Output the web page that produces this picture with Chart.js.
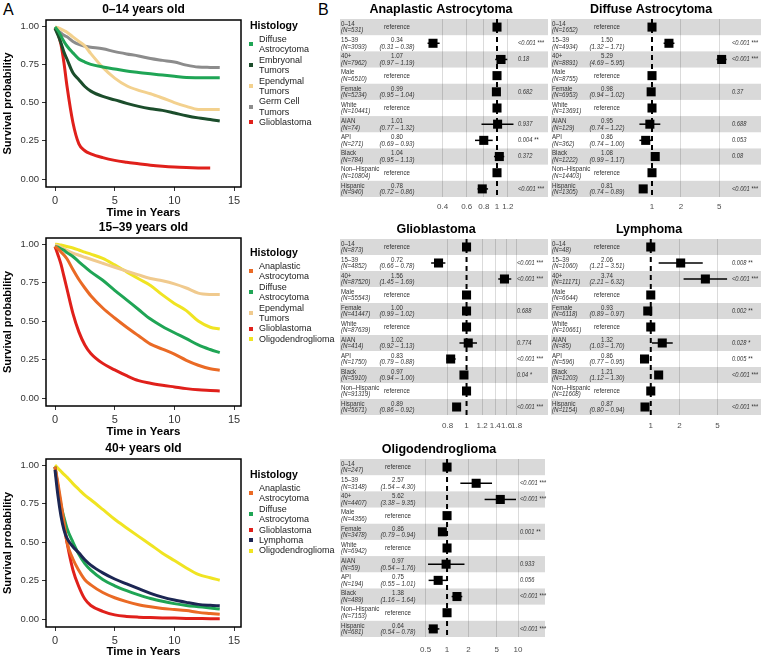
<!DOCTYPE html>
<html>
<head>
<meta charset="utf-8">
<script src="https://cdn.jsdelivr.net/npm/chart.js"></script>
<style>
  html, body { margin: 0; padding: 0; background: #fff; }
  #fig { position: relative; width: 761px; height: 661px; overflow: hidden; font-family: 'Liberation Sans', Arial, sans-serif; }
  canvas { position: absolute; }
  .tag { position: absolute; font-size: 16px; line-height: 18px; color: #000; }
  .legend { position: absolute; left: 246px; color: #1a1a1a; }
  .legend .lt { font-weight: bold; font-size: 10.5px; line-height: 14px; margin-left: 4px; margin-bottom: 2px; color: #000; }
  .legend .li { display: flex; align-items: center; }
  .legend .sw { width: 4px; height: 4px; margin: 0 6px 0 3px; flex: none; }
  .legend .tx { font-size: 9px; line-height: 10.4px; white-space: nowrap; }
</style>
</head>
<body>
<div id="fig">
  <div class="tag" style="left:3px;top:1px">A</div>
  <div class="tag" style="left:318px;top:1px">B</div>

  <canvas id="km1" width="250" height="222" style="left:0;top:0"></canvas>
  <canvas id="km2" width="250" height="223" style="left:0;top:218px"></canvas>
  <canvas id="km3" width="250" height="222" style="left:0;top:439px"></canvas>

  <div class="legend" id="leg1" style="top:18px"></div>
  <div class="legend" id="leg2" style="top:245px"></div>
  <div class="legend" id="leg3" style="top:467px"></div>

  <canvas id="fAna" width="214" height="215" style="left:336px;top:0"></canvas>
  <canvas id="fDif" width="211" height="215" style="left:550px;top:0"></canvas>
  <canvas id="fGli" width="214" height="215" style="left:336px;top:220px"></canvas>
  <canvas id="fLym" width="211" height="215" style="left:550px;top:220px"></canvas>
  <canvas id="fOli" width="214" height="221" style="left:336px;top:440px"></canvas>
</div>

<script>
// ========== DATA: survival curves (panel A) ==========
const kmTime = [0, 0.25, 0.5, 0.75, 1, 1.5, 2, 2.5, 3, 4, 5, 6, 7, 8, 9, 10, 11, 12, 13, 13.8];
const kmXTicks = [0, 5, 10, 15];
const kmYTicks = [0, 0.25, 0.5, 0.75, 1];

// 0-14 years old
const k1Names = ['Diffuse\nAstrocytoma', 'Embryonal\nTumors', 'Ependymal\nTumors', 'Germ Cell\nTumors', 'Glioblastoma'];
const k1Colors = ['#1fa555', '#1b4d2b', '#f3d18e', '#8c8c8c', '#e0201b'];
const k1Diffuse   = [0.995, 0.97, 0.935, 0.90, 0.87, 0.825, 0.785, 0.765, 0.75, 0.733, 0.72, 0.706, 0.697, 0.688, 0.68, 0.672, 0.664, 0.663, 0.662, 0.662];
const k1Embryonal = [0.985, 0.94, 0.89, 0.83, 0.785, 0.695, 0.65, 0.605, 0.575, 0.54, 0.518, 0.495, 0.475, 0.46, 0.449, 0.432, 0.414, 0.40, 0.39, 0.38];
const k1Ependymal = [0.995, 0.99, 0.98, 0.97, 0.96, 0.93, 0.90, 0.87, 0.82, 0.73, 0.66, 0.61, 0.58, 0.558, 0.53, 0.50, 0.475, 0.455, 0.454, 0.454];
const k1GermCell  = [0.985, 0.97, 0.955, 0.94, 0.93, 0.90, 0.88, 0.868, 0.862, 0.852, 0.833, 0.818, 0.805, 0.788, 0.776, 0.765, 0.745, 0.732, 0.73, 0.729];
const k1Glio      = [0.99, 0.95, 0.88, 0.76, 0.61, 0.37, 0.23, 0.185, 0.165, 0.14, 0.122, 0.11, 0.10, 0.09, 0.083, 0.078, 0.075, 0.073, 0.072, null];

// 15-39 years old
const k2Names = ['Anaplastic\nAstrocytoma', 'Diffuse\nAstrocytoma', 'Ependymal\nTumors', 'Glioblastoma', 'Oligodendroglioma'];
const k2Colors = ['#ea6a25', '#1fa555', '#f0ca8e', '#e0201b', '#f0e422'];
const k2Anaplastic = [0.985, 0.97, 0.95, 0.93, 0.905, 0.835, 0.77, 0.715, 0.665, 0.585, 0.52, 0.46, 0.405, 0.35, 0.318, 0.285, 0.245, 0.213, 0.19, 0.181];
const k2Diffuse    = [0.985, 0.98, 0.97, 0.96, 0.945, 0.92, 0.885, 0.852, 0.82, 0.765, 0.70, 0.638, 0.575, 0.513, 0.465, 0.424, 0.386, 0.345, 0.315, 0.295];
const k2Ependymal  = [0.995, 0.99, 0.98, 0.97, 0.96, 0.942, 0.928, 0.915, 0.902, 0.876, 0.85, 0.825, 0.80, 0.777, 0.762, 0.742, 0.715, 0.682, 0.673, 0.672];
const k2Glio       = [0.985, 0.93, 0.87, 0.79, 0.71, 0.55, 0.43, 0.345, 0.29, 0.225, 0.183, 0.145, 0.113, 0.096, 0.083, 0.072, 0.061, 0.053, 0.049, 0.046];
const k2Oligo      = [1.0, 0.998, 0.994, 0.99, 0.985, 0.975, 0.962, 0.948, 0.935, 0.907, 0.865, 0.82, 0.775, 0.732, 0.67, 0.615, 0.568, 0.50, 0.46, 0.448];

// 40+ years old
const k3Names = ['Anaplastic\nAstrocytoma', 'Diffuse\nAstrocytoma', 'Glioblastoma', 'Lymphoma', 'Oligodendroglioma'];
const k3Colors = ['#ea6a25', '#1fa555', '#e0201b', '#1c2653', '#f0e422'];
const k3Anaplastic = [0.99, 0.88, 0.76, 0.63, 0.50, 0.39, 0.315, 0.255, 0.222, 0.172, 0.138, 0.113, 0.093, 0.079, 0.068, 0.062, 0.055, 0.043, 0.036, 0.031];
const k3Diffuse    = [0.99, 0.86, 0.74, 0.66, 0.59, 0.50, 0.42, 0.36, 0.318, 0.257, 0.216, 0.184, 0.157, 0.133, 0.115, 0.10, 0.088, 0.08, 0.072, 0.065];
const k3Glio       = [0.99, 0.85, 0.73, 0.62, 0.50, 0.32, 0.21, 0.13, 0.088, 0.05, 0.027, 0.017, 0.012, 0.009, 0.007, 0.006, 0.004, 0.003, 0.002, 0.002];
const k3Lymphoma   = [0.97, 0.80, 0.67, 0.58, 0.525, 0.47, 0.43, 0.385, 0.35, 0.30, 0.26, 0.228, 0.197, 0.167, 0.142, 0.123, 0.108, 0.095, 0.089, 0.086];
const k3Oligo      = [1.0, 0.98, 0.96, 0.94, 0.922, 0.88, 0.842, 0.805, 0.775, 0.712, 0.648, 0.592, 0.537, 0.483, 0.428, 0.38, 0.332, 0.29, 0.268, 0.252];

// ========== DATA: hazard ratios (panel B) ==========
const forestRows = ['0–14', '15–39', '40+', 'Male', 'Female', 'White', 'AIAN', 'API', 'Black', 'Non–Hispanic', 'Hispanic'];

const anaN  = [531, 3093, 7962, 6510, 5234, 10441, 74, 271, 784, 10804, 940];
const anaHR = [null, 0.34, 1.07, null, 0.99, null, 1.01, 0.80, 1.04, null, 0.78];
const anaLo = [null, 0.31, 0.97, null, 0.95, null, 0.77, 0.69, 0.95, null, 0.72];
const anaHi = [null, 0.38, 1.19, null, 1.04, null, 1.32, 0.93, 1.13, null, 0.86];
const anaP  = ['', '<0.001 ***', '0.18', '', '0.682', '', '0.937', '0.004 **', '0.372', '', '<0.001 ***'];
const anaTicks = [0.4, 0.6, 0.8, 1, 1.2];

const difN  = [1652, 4934, 8891, 8755, 6953, 13691, 129, 362, 1222, 14403, 1305];
const difHR = [null, 1.50, 5.29, null, 0.98, null, 0.95, 0.86, 1.08, null, 0.81];
const difLo = [null, 1.32, 4.69, null, 0.94, null, 0.74, 0.74, 0.99, null, 0.74];
const difHi = [null, 1.71, 5.95, null, 1.02, null, 1.22, 1.00, 1.17, null, 0.89];
const difP  = ['', '<0.001 ***', '<0.001 ***', '', '0.37', '', '0.688', '0.053', '0.08', '', '<0.001 ***'];
const difTicks = [1, 2, 5];

const gliN  = [873, 4852, 87520, 55543, 41447, 87639, 414, 1750, 5910, 91319, 5671];
const gliHR = [null, 0.72, 1.56, null, 1.00, null, 1.02, 0.83, 0.97, null, 0.89];
const gliLo = [null, 0.66, 1.45, null, 0.99, null, 0.92, 0.79, 0.94, null, 0.86];
const gliHi = [null, 0.78, 1.69, null, 1.02, null, 1.13, 0.88, 1.00, null, 0.92];
const gliP  = ['', '<0.001 ***', '<0.001 ***', '', '0.688', '', '0.774', '<0.001 ***', '0.04 *', '', '<0.001 ***'];
const gliTicks = [0.8, 1, 1.2, 1.4, 1.6, 1.8];

const lymN  = [48, 1060, 11171, 6644, 6118, 10661, 85, 596, 1203, 11608, 1154];
const lymHR = [null, 2.06, 3.74, null, 0.93, null, 1.32, 0.86, 1.21, null, 0.87];
const lymLo = [null, 1.21, 2.21, null, 0.89, null, 1.03, 0.77, 1.12, null, 0.80];
const lymHi = [null, 3.51, 6.32, null, 0.97, null, 1.70, 0.95, 1.30, null, 0.94];
const lymP  = ['', '0.008 **', '<0.001 ***', '', '0.002 **', '', '0.028 *', '0.005 **', '<0.001 ***', '', '<0.001 ***'];
const lymTicks = [1, 2, 5];

const oliN  = [247, 3148, 4407, 4356, 3478, 6942, 59, 194, 489, 7153, 681];
const oliHR = [null, 2.57, 5.62, null, 0.86, null, 0.97, 0.75, 1.38, null, 0.64];
const oliLo = [null, 1.54, 3.38, null, 0.79, null, 0.54, 0.55, 1.16, null, 0.54];
const oliHi = [null, 4.30, 9.35, null, 0.94, null, 1.76, 1.01, 1.64, null, 0.78];
const oliP  = ['', '<0.001 ***', '<0.001 ***', '', '0.001 **', '', '0.933', '0.056', '<0.001 ***', '', '<0.001 ***'];
const oliTicks = [0.5, 1, 2, 5, 10];

// ========== COMMON ==========
const FONT = "'Liberation Sans', Arial, Helvetica, sans-serif";
const SQ = 0.82; // horizontal squeeze for the narrow table text
Chart.defaults.font.family = FONT;

const framePlugin = {
  id: 'frame',
  afterDatasetsDraw(chart) {
    const { ctx, chartArea: a } = chart;
    ctx.save();
    ctx.strokeStyle = '#000';
    ctx.lineWidth = 1.5;
    ctx.strokeRect(a.left, a.top, a.width, a.height);
    ctx.restore();
  }
};

// panel title, centred on a given x (or the plot area) just above the plot area
function titlePlugin(text, size, cx, dy) {
  return {
    id: 'ptitle',
    afterDraw(chart) {
      const { ctx, chartArea: a } = chart;
      ctx.save();
      ctx.font = `bold ${size}px ${FONT}`;
      ctx.fillStyle = '#000';
      ctx.textAlign = 'center';
      ctx.textBaseline = 'middle';
      ctx.fillText(text, cx == null ? (a.left + a.right) / 2 : cx, a.top - dy);
      ctx.restore();
    }
  };
}

function buildLegend(id, names, colors) {
  const el = document.getElementById(id);
  el.innerHTML = '<div class="lt">Histology</div>' + names.map((n, i) =>
    `<div class="li"><span class="sw" style="background:${colors[i]}"></span><span class="tx">${n.replace('\n', '<br>')}</span></div>`
  ).join('');
}

// ========== KAPLAN-MEIER CHARTS ==========
function kmChart(id, title, names, colors, series, xAxisH) {
  new Chart(document.getElementById(id), {
    type: 'line',
    data: {
      datasets: series.map((vals, i) => ({
        label: names[i].replace('\n', ' '),
        data: kmTime.map((t, j) => ({ x: t, y: vals[j] })),
        borderColor: colors[i],
        borderWidth: 3,
        pointRadius: 0,
        cubicInterpolationMode: 'monotone',
        spanGaps: false,
        order: names[i] === 'Lymphoma' ? -1 : i
      }))
    },
    options: {
      responsive: false,
      animation: false,
      events: [],
      layout: { padding: { left: 0, right: 9, top: 20, bottom: 0 } },
      plugins: {
        legend: { display: false },
        tooltip: { enabled: false }
      },
      scales: {
        x: {
          type: 'linear', min: -0.754, max: 15.58,
          afterBuildTicks: s => { s.ticks = kmXTicks.map(v => ({ value: v })); },
          afterFit: s => { s.height = xAxisH; },
          ticks: { color: '#333', font: { size: 11 }, padding: 3, maxRotation: 0, autoSkip: false },
          grid: { drawOnChartArea: false, tickLength: 4, color: '#333', lineWidth: 1 },
          border: { display: false },
          title: { display: true, text: 'Time in Years', color: '#000', font: { size: 11.5, weight: 'bold' }, padding: { top: 0, bottom: 2 } }
        },
        y: {
          type: 'linear', min: -0.052, max: 1.04,
          afterBuildTicks: s => { s.ticks = kmYTicks.map(v => ({ value: v })); },
          afterFit: s => { s.width = 46; },
          ticks: { color: '#333', font: { size: 9.5 }, padding: 3, callback: v => v.toFixed(2) },
          grid: { drawOnChartArea: false, tickLength: 4, color: '#333', lineWidth: 1 },
          border: { display: false },
          title: { display: true, text: 'Survival probability', color: '#000', font: { size: 11, weight: 'bold' }, padding: { top: 1.5, bottom: 0 } }
        }
      }
    },
    plugins: [framePlugin, titlePlugin(title, 12, null, 10)]
  });
}

// ========== FOREST CHARTS ==========
function sqText(ctx, txt, x, y, align, font) {
  ctx.font = font;
  const w = ctx.measureText(txt).width * SQ;
  const x0 = align === 'center' ? x - w / 2 : x;
  ctx.save();
  ctx.translate(x0, y);
  ctx.scale(SQ, 1);
  ctx.textAlign = 'left';
  ctx.fillText(txt, 0, 0);
  ctx.restore();
}

function forestPlugin(d, o) {
  return {
    id: 'forest',
    beforeDraw(chart) {
      const { ctx, width, scales: { y } } = chart;
      ctx.save();
      ctx.fillStyle = '#d9d9d9';
      forestRows.forEach((r, i) => {
        if (i % 2) return;
        const t = y.getPixelForValue(i - 0.5), b = y.getPixelForValue(i + 0.5);
        ctx.fillRect(o.bandL, t, width - o.bandL - o.bandR, b - t);
      });
      ctx.restore();
    },
    beforeDatasetsDraw(chart) {
      const { ctx, chartArea: a, scales: { x, y } } = chart;
      ctx.save();
      ctx.strokeStyle = '#000';
      ctx.lineWidth = 2;
      ctx.setLineDash([5, 4]);
      const x1 = x.getPixelForValue(1);
      ctx.beginPath(); ctx.moveTo(x1, a.top); ctx.lineTo(x1, a.bottom); ctx.stroke();
      ctx.setLineDash([]);
      ctx.lineWidth = 1.5;
      d.lo.forEach((lo, i) => {
        if (lo == null) return;
        const py = y.getPixelForValue(i);
        ctx.beginPath();
        ctx.moveTo(x.getPixelForValue(lo), py);
        ctx.lineTo(x.getPixelForValue(d.hi[i]), py);
        ctx.stroke();
      });
      ctx.restore();
    },
    afterDraw(chart) {
      const { ctx, scales: { y } } = chart;
      ctx.save();
      ctx.fillStyle = '#333';
      ctx.textBaseline = 'middle';
      const reg = `7.5px ${FONT}`, ita = `italic 7.5px ${FONT}`;
      forestRows.forEach((r, i) => {
        const py = y.getPixelForValue(i);
        sqText(ctx, r, o.labX, py - 3.3, 'left', reg);
        sqText(ctx, `(N=${d.n[i]})`, o.labX, py + 3.3, 'left', ita);
        if (d.hr[i] == null) {
          sqText(ctx, 'reference', o.hrX, py, 'center', reg);
        } else {
          sqText(ctx, d.hr[i].toFixed(2), o.hrX, py - 3.3, 'center', reg);
          sqText(ctx, `(${d.lo[i].toFixed(2)} – ${d.hi[i].toFixed(2)})`, o.hrX, py + 3.3, 'center', ita);
        }
        if (d.p[i]) sqText(ctx, d.p[i], o.pX, py, 'left', `italic 7px ${FONT}`);
      });
      ctx.restore();
    }
  };
}

function forestChart(id, title, d, o) {
  new Chart(document.getElementById(id), {
    type: 'scatter',
    data: {
      datasets: [{
        data: forestRows.map((r, i) => ({ x: d.hr[i] == null ? 1 : d.hr[i], y: i })),
        pointStyle: 'rect',
        pointRadius: 6.4,
        pointHoverRadius: 6.4,
        pointBackgroundColor: '#000',
        pointBorderWidth: 0
      }]
    },
    options: {
      responsive: false,
      animation: false,
      events: [],
      layout: { padding: { left: o.padL, right: o.padR, top: 19, bottom: 0 } },
      plugins: {
        legend: { display: false },
        tooltip: { enabled: false }
      },
      scales: {
        x: {
          type: 'logarithmic', min: o.min, max: o.max,
          afterBuildTicks: s => { s.ticks = d.ticks.map(v => ({ value: v })); },
          afterFit: s => { s.height = o.axisH; },
          ticks: { callback: (v, i) => String(d.ticks[i]), color: '#4d4d4d', font: { size: 8 }, padding: o.tickPad, maxRotation: 0, autoSkip: false },
          grid: { color: c => (c.tick && c.tick.value === 1) ? 'rgba(0,0,0,0)' : 'rgba(0,0,0,0.14)', drawTicks: false, lineWidth: 1 },
          border: { display: false }
        },
        y: { type: 'linear', min: -0.5, max: 10.5, reverse: true, display: false }
      }
    },
    plugins: [forestPlugin(d, o), titlePlugin(title, 12.5, o.titleX, 9)]
  });
}

document.addEventListener('DOMContentLoaded', () => {
  kmChart('km1', '0–14 years old', k1Names, k1Colors, [k1Diffuse, k1Embryonal, k1Ependymal, k1GermCell, k1Glio], 35);
  kmChart('km2', '15–39 years old', k2Names, k2Colors, [k2Anaplastic, k2Diffuse, k2Ependymal, k2Glio, k2Oligo], 35);
  kmChart('km3', '40+ years old', k3Names, k3Colors, [k3Anaplastic, k3Diffuse, k3Glio, k3Lymphoma, k3Oligo], 34);
  buildLegend('leg1', k1Names, k1Colors);
  buildLegend('leg2', k2Names, k2Colors);
  buildLegend('leg3', k3Names, k3Colors);

  forestChart('fAna', 'Anaplastic Astrocytoma',
    { n: anaN, hr: anaHR, lo: anaLo, hi: anaHi, p: anaP, ticks: anaTicks },
    { padL: 89, padR: 40, min: 0.297, max: 1.245, axisH: 18, tickPad: 5, bandL: 4, bandR: 2, labX: 5, hrX: 61, pX: 182, titleX: 105 });
  forestChart('fDif', 'Diffuse Astrocytoma',
    { n: difN, hr: difHR, lo: difLo, hi: difHi, p: difP, ticks: difTicks },
    { padL: 86, padR: 33, min: 0.682, max: 6.16, axisH: 18, tickPad: 5, bandL: 1, bandR: 0, labX: 2, hrX: 57, pX: 182, titleX: 101 });
  forestChart('fGli', 'Glioblastoma',
    { n: gliN, hr: gliHR, lo: gliLo, hi: gliHi, p: gliP, ticks: gliTicks },
    { padL: 87, padR: 31, min: 0.62, max: 1.85, axisH: 20, tickPad: 6, bandL: 4, bandR: 2, labX: 5, hrX: 61, pX: 181, titleX: 100 });
  forestChart('fLym', 'Lymphoma',
    { n: lymN, hr: lymHR, lo: lymLo, hi: lymHi, p: lymP, ticks: lymTicks },
    { padL: 86, padR: 33, min: 0.715, max: 6.46, axisH: 20, tickPad: 6, bandL: 1, bandR: 0, labX: 2, hrX: 57, pX: 182, titleX: 99 });
  forestChart('fOli', 'Oligodendroglioma',
    { n: oliN, hr: oliHR, lo: oliLo, hi: oliHi, p: oliP, ticks: oliTicks },
    { padL: 86, padR: 29, min: 0.444, max: 11.0, axisH: 24, tickPad: 8, bandL: 4, bandR: 5, labX: 5, hrX: 62, pX: 184, titleX: 103 });
});
</script>
</body>
</html>
